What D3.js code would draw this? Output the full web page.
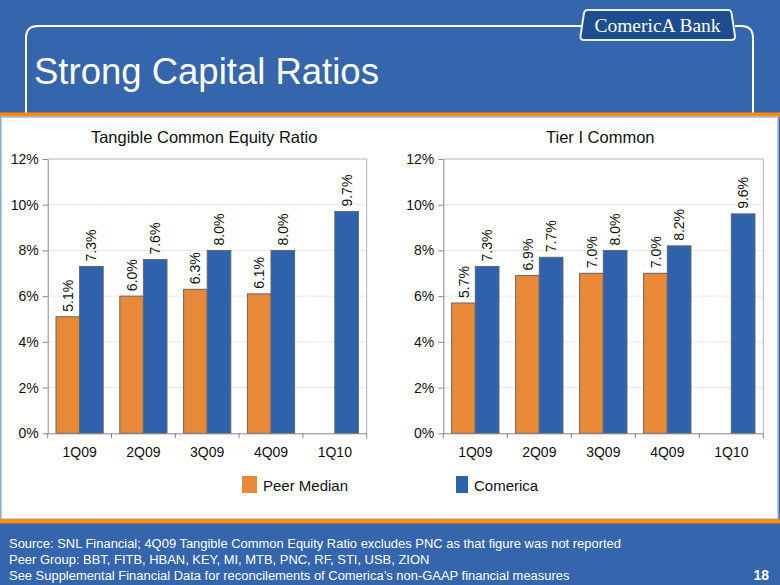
<!DOCTYPE html>
<html><head><meta charset="utf-8">
<script src="https://cdn.jsdelivr.net/npm/d3@7"></script>
<style>
html,body{margin:0;padding:0;background:#3465ad;}
svg{display:block;font-family:"Liberation Sans",Arial,sans-serif;}
</style></head><body>
<svg id="c" width="780" height="585"></svg>
<script>
const categories = ["1Q09","2Q09","3Q09","4Q09","1Q10"];
const tceTitle = "Tangible Common Equity Ratio";
const tcePeer = [5.1, 6.0, 6.3, 6.1, null];
const tceComerica = [7.3, 7.6, 8.0, 8.0, 9.7];
const tierTitle = "Tier I Common";
const tierPeer = [5.7, 6.9, 7.0, 7.0, null];
const tierComerica = [7.3, 7.7, 8.0, 8.2, 9.6];
const yTicks = [0, 2, 4, 6, 8, 10, 12];
const seriesNames = ["Peer Median", "Comerica"];
const seriesColors = ["#e8893a", "#2f62ad"];
const footLines = [
  "Source: SNL Financial; 4Q09 Tangible Common Equity Ratio excludes PNC as that figure was not reported",
  "Peer Group: BBT, FITB, HBAN, KEY, MI, MTB, PNC, RF, STI, USB, ZION",
  "See Supplemental Financial Data for reconcilements of Comerica\u2019s non-GAAP financial measures"
];
const pageNum = "18";
const slideTitle = "Strong Capital Ratios";

const svg = d3.select("#c");
svg.append("rect").attr("x",0).attr("y",0).attr("width",780).attr("height",585).attr("fill","#3465ad");
// frame outline
svg.append("path")
  .attr("d","M26,113 L26,38 Q26,26 38,26 L581,26 M735,26 L741,26 Q753,26 753,38 L753,113")
  .attr("fill","none").attr("stroke","#fff").attr("stroke-width",2);
// logo
const lg = svg.append("g");
lg.append("path").attr("d","M588,10 L728,10 Q731,10 731.5,13 L735,36 Q735.5,40 731,40 L584,40 Q580,40 580.5,36 L584,13 Q584.5,10 588,10 Z")
  .attr("fill","#1d4c8f").attr("stroke","#e8eef7").attr("stroke-width",2);
lg.append("text").attr("x",657.5).attr("y",31.5).attr("text-anchor","middle")
  .attr("font-family","'Liberation Serif','DejaVu Serif',serif").attr("font-size",19.5).attr("fill","#fff")
  .text("ComericA Bank");
// title
svg.append("text").attr("x",34).attr("y",84).attr("font-size",36.5).attr("fill","#fff").text(slideTitle);
// orange lines & white panel
svg.append("rect").attr("x",0).attr("y",112.5).attr("width",780).attr("height",4.5).attr("fill","#ff8a12");
svg.append("rect").attr("x",1).attr("y",117).attr("width",777).attr("height",402).attr("fill","#fff")
  .attr("stroke","#a9c0e0").attr("stroke-width",1.5);
svg.append("rect").attr("x",0).attr("y",519).attr("width",780).attr("height",4.5).attr("fill","#ff8a12");

function drawChart(left, right, title, peer, com) {
  const top = 159, bottom = 433.3;
  const g = svg.append("g");
  const x = d3.scaleBand().domain(categories).range([left, right]).paddingInner(0).paddingOuter(0);
  const y = d3.scaleLinear().domain([0, 12]).range([bottom, top]);
  const bw = x.bandwidth() * 0.37;
  g.selectAll(".grid").data(yTicks.filter(t => t > 0 && t < 12)).join("line")
    .attr("x1", left).attr("x2", right).attr("y1", d => y(d)).attr("y2", d => y(d))
    .attr("stroke","#dcdcdc").attr("stroke-width",1).attr("stroke-dasharray","2,1");
  g.append("path").attr("d",`M${left},${top} L${right},${top} L${right},${bottom}`)
    .attr("fill","none").attr("stroke","#b5b5b5").attr("stroke-width",1);
  const data = categories.map((c, i) => ({c, p: peer[i], v: com[i]}));
  g.selectAll(".bp").data(data.filter(d => d.p != null)).join("rect")
    .attr("x", d => x(d.c) + x.bandwidth()/2 - bw).attr("width", bw)
    .attr("y", d => y(d.p)).attr("height", d => bottom - y(d.p))
    .attr("fill", seriesColors[0]).attr("stroke","#666").attr("stroke-width",1);
  g.selectAll(".bc").data(data).join("rect")
    .attr("x", d => x(d.c) + x.bandwidth()/2).attr("width", bw)
    .attr("y", d => y(d.v)).attr("height", d => bottom - y(d.v))
    .attr("fill", seriesColors[1]).attr("stroke","#666").attr("stroke-width",1);
  const lbl = (cx, val) => g.append("text")
    .attr("transform", `translate(${cx},${y(val) - 5}) rotate(-90)`)
    .attr("dy","0.36em").attr("font-size",14).attr("fill","#111").text(val.toFixed(1) + "%");
  data.forEach(d => {
    if (d.p != null) lbl(x(d.c) + x.bandwidth()/2 - bw/2, d.p);
    lbl(x(d.c) + x.bandwidth()/2 + bw/2, d.v);
  });
  const ya = d3.axisLeft(y).tickValues(yTicks).tickFormat(d => d + "%").tickSize(5).tickSizeOuter(0);
  const yg = g.append("g").attr("transform", `translate(${left},0)`).call(ya);
  yg.select(".domain").attr("stroke","#888");
  yg.selectAll(".tick line").attr("stroke","#888");
  yg.selectAll("text").attr("font-size",14).attr("fill","#111").attr("font-family","'Liberation Sans',Arial,sans-serif").attr("x",-9);
  const xa = d3.axisBottom(x).tickSize(0).tickSizeOuter(0);
  const xg = g.append("g").attr("transform", `translate(0,${bottom})`).call(xa);
  xg.select(".domain").attr("stroke","#888");
  xg.selectAll("text").attr("font-size",14).attr("fill","#111").attr("font-family","'Liberation Sans',Arial,sans-serif").attr("y",14);
  g.selectAll(".sep").data(d3.range(categories.length + 1)).join("line")
    .attr("x1", i => left + i * x.bandwidth()).attr("x2", i => left + i * x.bandwidth())
    .attr("y1", bottom).attr("y2", bottom + 5).attr("stroke","#888");
  g.append("text").attr("x", (left + right) / 2 - 3).attr("y", 143).attr("text-anchor","middle")
    .attr("font-size",16.5).attr("fill","#111").text(title);
}
drawChart(47.7, 366.7, tceTitle, tcePeer, tceComerica);
drawChart(443.3, 763.3, tierTitle, tierPeer, tierComerica);

const legX = [242, 456];
const legW = [15, 12];
seriesNames.forEach((n, i) => {
  svg.append("rect").attr("x", legX[i]).attr("y", 476).attr("width", legW[i]).attr("height", 17)
    .attr("fill", seriesColors[i]);
  svg.append("text").attr("x", legX[i] + legW[i] + 6).attr("y", 490.5).attr("font-size",15).attr("fill","#111").text(n);
});

footLines.forEach((t, i) => {
  svg.append("text").attr("x", 9).attr("y", 547.5 + i * 16.3).attr("font-size",12.95).attr("fill","#fff").text(t);
});
svg.append("text").attr("x", 769).attr("y", 580).attr("text-anchor","end").attr("font-size",14)
  .attr("font-weight","bold").attr("fill","#fff").text(pageNum);
</script>
</body></html>
